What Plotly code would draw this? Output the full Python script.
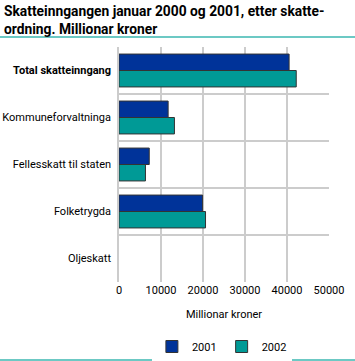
import plotly.graph_objects as go

categories = ["Total skatteinngang", "Kommuneforvaltninga", "Fellesskatt til staten", "Folketrygda", "Oljeskatt"]
cat_labels = ["<b>Total skatteinngang</b>", "Kommuneforvaltninga", "Fellesskatt til staten", "Folketrygda", "Oljeskatt"]
values_2001 = [40500, 11700, 7200, 19900, 0]
values_2002 = [42200, 13200, 6300, 20600, 0]
series_names = ["2001", "2002"]
x_ticks = [0, 10000, 20000, 30000, 40000, 50000]

FONT = "Roboto"
outline_w = [1 if v else 0 for v in values_2001]
fig = go.Figure()
fig.add_trace(go.Bar(y=cat_labels, x=values_2001, orientation="h", name=series_names[0],
                     marker=dict(color="#003399", line=dict(color="#333333", width=outline_w))))
fig.add_trace(go.Bar(y=cat_labels, x=values_2002, orientation="h", name=series_names[1],
                     marker=dict(color="#009a96", line=dict(color="#333333", width=outline_w))))

fig.update_layout(
    width=355, height=361,
    margin=dict(l=119, r=26, t=47, b=79, autoexpand=False),
    paper_bgcolor="white", plot_bgcolor="white",
    barmode="group", bargap=0.3, bargroupgap=0,
    font=dict(family=FONT, size=11, color="#000000"),
    showlegend=True,
    legend=dict(orientation="h", x=0.49, xanchor="center", y=-50/235, yanchor="top",
                font=dict(size=11), traceorder="normal"),
    xaxis=dict(range=[0, 50000], tickvals=x_ticks, ticktext=[str(v) for v in x_ticks],
               showgrid=True, gridcolor="#cccccc", gridwidth=1.5, zeroline=False, automargin=False,
               showline=False, ticks="", title=dict(text="Millionar kroner", standoff=14, font=dict(size=11))),
    yaxis=dict(autorange="reversed", tickson="boundaries", showgrid=True, gridcolor="#cccccc",
               gridwidth=1.5, ticks="", showline=True, linecolor="#cccccc", linewidth=1.5,
               ticklabelstandoff=4, automargin=False),
    shapes=[
        dict(type="line", xref="paper", yref="paper", x0=-119/210, x1=(355-119)/210, y0=1+10/235, y1=1+10/235,
             line=dict(color="#6cc9c4", width=2)),
        dict(type="line", xref="paper", yref="paper", x0=-119/210, x1=(355-119)/210, y0=-78/235, y1=-78/235,
             line=dict(color="#6cc9c4", width=2)),
    ],
    annotations=[
        dict(text="<b>Skatteinngangen januar 2000 og 2001, etter skatte-<br>ordning. Millionar kroner</b>",
             xref="paper", yref="paper", x=-117/210, y=1+46/235, xanchor="left", yanchor="top",
             align="left", showarrow=False, font=dict(family=FONT, size=13.8, color="#000000")),
    ],
)
fig.write_html("out.html", config={"displayModeBar": False},
               post_script="document.body.style.margin='0';document.body.style.padding='0';")
